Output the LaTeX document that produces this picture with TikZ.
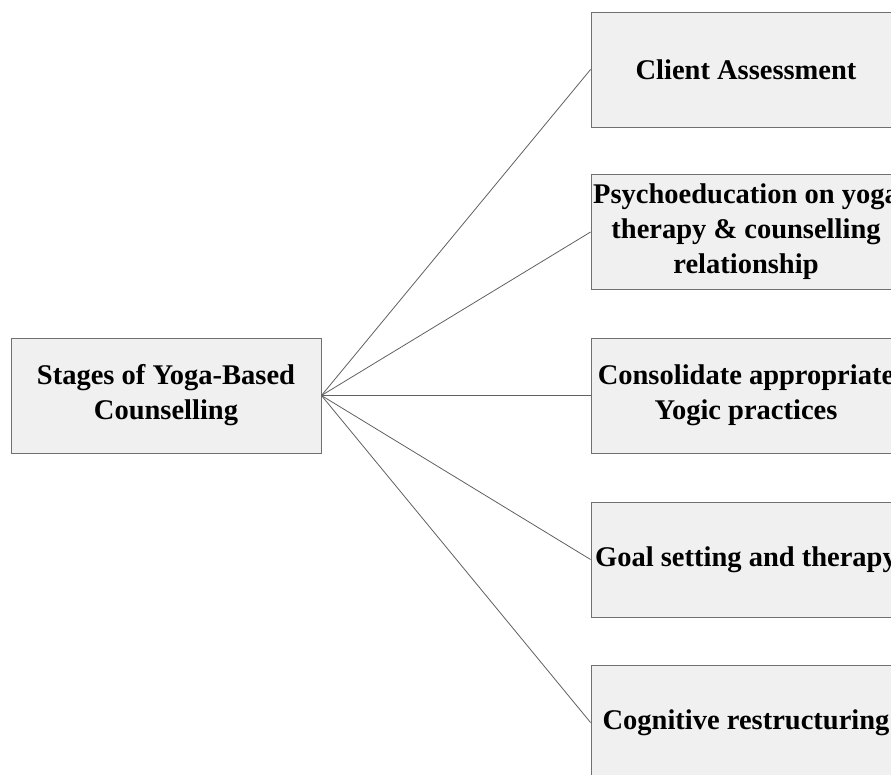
\documentclass[tikz,border=0pt]{standalone}
\usepackage{fontspec}
\setmainfont{Liberation Serif}
\definecolor{boxfill}{HTML}{F0F0F0}
\definecolor{boxline}{HTML}{707070}
\definecolor{linkline}{HTML}{606060}
\begin{document}
\begin{tikzpicture}[x=1pt,y=1pt,
  stagebox/.style={draw=boxline, fill=boxfill, line width=0.9pt,
    minimum width=310pt, minimum height=115pt, inner sep=0pt,
    align=center, font=\bfseries\fontsize{28.5}{35}\selectfont},
  link/.style={draw=linkline, line width=0.8pt}]
\useasboundingbox (0,0) rectangle (891,-774);
\clip (0,0) rectangle (891,-774);
\node[stagebox] (L) at (166,-395.5) {Stages of Yoga-Based\\Counselling};
\node[stagebox] (R1) at (746,-69.5) {Client Assessment};
\node[stagebox] (R2) at (746,-232) {Psychoeducation on yoga\\therapy \& counselling\\relationship};
\node[stagebox] (R3) at (746,-395.5) {Consolidate appropriate\\Yogic practices};
\node[stagebox] (R4) at (746,-559.5) {Goal setting and therapy};
\node[stagebox] (R5) at (746,-722.5) {Cognitive restructuring};
\foreach \i in {1,...,5} {\draw[link] (L.east) -- (R\i.west);}
\end{tikzpicture}
\end{document}
